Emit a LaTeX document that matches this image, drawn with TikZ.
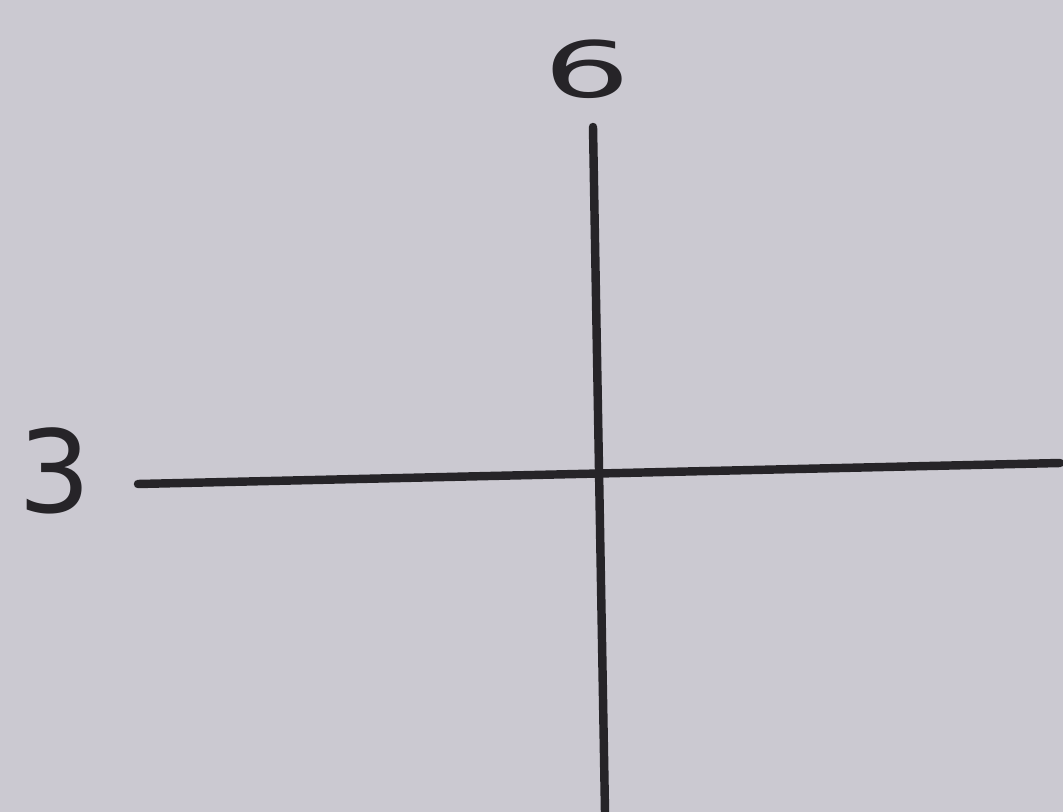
\documentclass[tikz,border=0pt]{standalone}
\usepackage{fontspec}
\setsansfont{DejaVu Sans}
\usetikzlibrary{positioning}
\definecolor{paper}{RGB}{203,201,209}
\definecolor{ink}{RGB}{38,36,40}

\begin{document}
\begin{tikzpicture}[
    x=0.01cm, y=-0.01cm,
    axis/.style={draw=ink, line width=2.4pt, line cap=round},
    numlab/.style={text=ink, font=\fontsize{26}{26}\selectfont\sffamily, inner sep=0pt}
  ]
    \fill[paper] (0,0) rectangle (1063,812);
    \useasboundingbox (0,0) rectangle (1063,812);
    % axes
    \coordinate (top) at (593,127);
    \coordinate (bottom) at (605,812);
    \coordinate (left) at (138,484);
    \coordinate (right) at (1060,463);
    \draw[axis] (top) -- (bottom);
    \draw[axis] (left) -- (right);
    % labels
    \node[numlab, xscale=1.5, yscale=0.85] (six) at (587,69) {6};
    \node[numlab, xscale=1.25, yscale=1.25] (three) at (55,471) {3};
  \end{tikzpicture}
\end{document}
